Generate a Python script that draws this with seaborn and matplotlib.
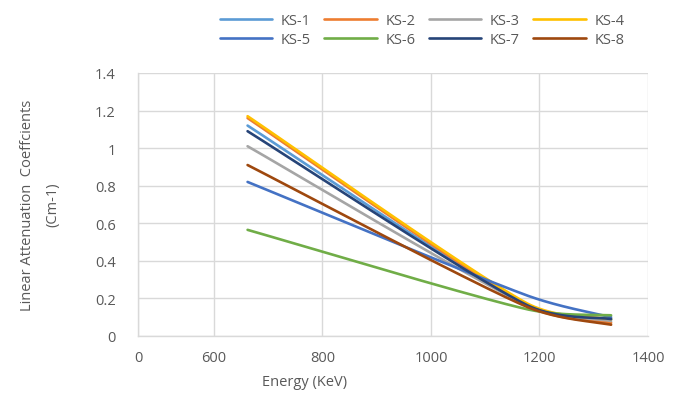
import numpy as np
import pandas as pd
import matplotlib
matplotlib.use("Agg")
import matplotlib.pyplot as plt
import seaborn as sns
from matplotlib.lines import Line2D

# ---- data ----
energy = [662, 1173, 1332]
series_names = ["KS-1", "KS-2", "KS-3", "KS-4", "KS-5", "KS-6", "KS-7", "KS-8"]
ks1 = [1.12, 0.17, 0.09]
ks2 = [1.16, 0.17, 0.07]
ks3 = [1.01, 0.17, 0.08]
ks4 = [1.17, 0.18, 0.09]
ks5 = [0.82, 0.22, 0.10]
ks6 = [0.565, 0.145, 0.11]
ks7 = [1.09, 0.17, 0.09]
ks8 = [0.91, 0.16, 0.06]
series_values = [ks1, ks2, ks3, ks4, ks5, ks6, ks7, ks8]
x_tick_values = [460, 600, 800, 1000, 1200, 1400]
x_tick_labels = ["0", "600", "800", "1000", "1200", "1400"]
y_ticks = [0, 0.2, 0.4, 0.6, 0.8, 1, 1.2, 1.4]
y_tick_labels = ["0", "0.2", "0.4", "0.6", "0.8", "1", "1.2", "1.4"]

colors = ["#5B9BD5", "#ED7D31", "#A5A5A5", "#FFC000",
          "#4472C4", "#70AD47", "#264478", "#9E480E"]

# screen scale used for the spreadsheet-style smoothing (px per unit)
SX, SY = 108.5 / 200.0, 186.4


def smooth(xs, ys, n=80, f=1.0 / 6.0):
    """Spreadsheet-style smoothed line: cubic Bezier segments through the points."""
    P = np.column_stack([np.asarray(xs, float) * SX, np.asarray(ys, float) * SY])
    m = len(P)
    seglen = np.hypot(*np.diff(P, axis=0).T)
    out = []
    for i in range(m - 1):
        p0, p1 = P[i], P[i + 1]
        if i == 0:
            a0 = (p1 - p0) * f
        else:
            T = P[i + 1] - P[i - 1]
            a0 = T * f * min(1.0, np.sqrt(seglen[i] / seglen[i - 1]))
        if i + 1 == m - 1:
            a1 = (p1 - p0) * f
        else:
            T = P[i + 2] - P[i]
            a1 = T * f * min(1.0, np.sqrt(seglen[i] / seglen[i + 1]))
        c1, c2 = p0 + a0, p1 - a1
        t = np.linspace(0, 1, n)[:, None]
        if i > 0:
            t = t[1:]
        seg = ((1 - t) ** 3) * p0 + 3 * ((1 - t) ** 2) * t * c1 \
            + 3 * (1 - t) * t ** 2 * c2 + t ** 3 * p1
        out.append(seg)
    out = np.vstack(out)
    return out[:, 0] / SX, out[:, 1] / SY


rows = []
for name, vals in zip(series_names, series_values):
    sx, sy = smooth(energy, vals)
    for xx, yy in zip(sx, sy):
        rows.append({"Energy": xx, "Value": yy, "Series": name})
df = pd.DataFrame(rows)

sns.set_theme(style="white")
plt.rcParams["font.family"] = ["Open Sans", "DejaVu Sans"]

fig = plt.figure(figsize=(6.75, 4.02), dpi=100)
ax = fig.add_axes([0.2044, 0.1617, 0.7556, 0.6543])

sns.lineplot(data=df, x="Energy", y="Value", hue="Series", hue_order=series_names,
             palette=colors, sort=False, estimator=None, linewidth=1.9, ax=ax,
             legend=False)

ax.set_xlim(460, 1400)
ax.set_ylim(0, 1.4)
ax.set_xticks(x_tick_values)
ax.set_xticklabels(x_tick_labels)
ax.set_yticks(y_ticks)
ax.set_yticklabels(y_tick_labels)
ax.grid(True, color="#D9D9D9", linewidth=1.0)
ax.set_axisbelow(True)
for s in ["top", "right"]:
    ax.spines[s].set_visible(False)
for s in ["left", "bottom"]:
    ax.spines[s].set_color("#D9D9D9")
    ax.spines[s].set_linewidth(1.0)
ax.tick_params(axis="both", length=0, labelsize=10.5, colors="#595959")
ax.tick_params(axis="y", pad=16)
ax.tick_params(axis="x", pad=10)
ax.set_xlabel("")
ax.set_ylabel("")

fig.text(305 / 675, 1 - 383 / 402, "Energy (KeV)", ha="center", va="center",
         fontsize=10.5, color="#595959")
fig.text(40 / 675, 1 - 205 / 402, "Linear Attenuation  Coeffcients\n(Cm-1)",
         ha="center", va="center", rotation=90, fontsize=10.5, color="#595959",
         linespacing=1.9)

# legend filled row by row (matplotlib fills column-wise, so reorder)
order = [0, 4, 1, 5, 2, 6, 3, 7]
handles = [Line2D([0], [0], color=colors[i], lw=1.9) for i in order]
labels = [series_names[i] for i in order]
leg = fig.legend(handles, labels, ncol=4, loc="center",
                 bbox_to_anchor=(422 / 675, 1 - 31 / 402), frameon=False,
                 fontsize=10.5, handlelength=3.6, handletextpad=0.6,
                 columnspacing=0.9, labelspacing=0.3)
for t in leg.get_texts():
    t.set_color("#595959")

fig.savefig("out.png", dpi=100)
